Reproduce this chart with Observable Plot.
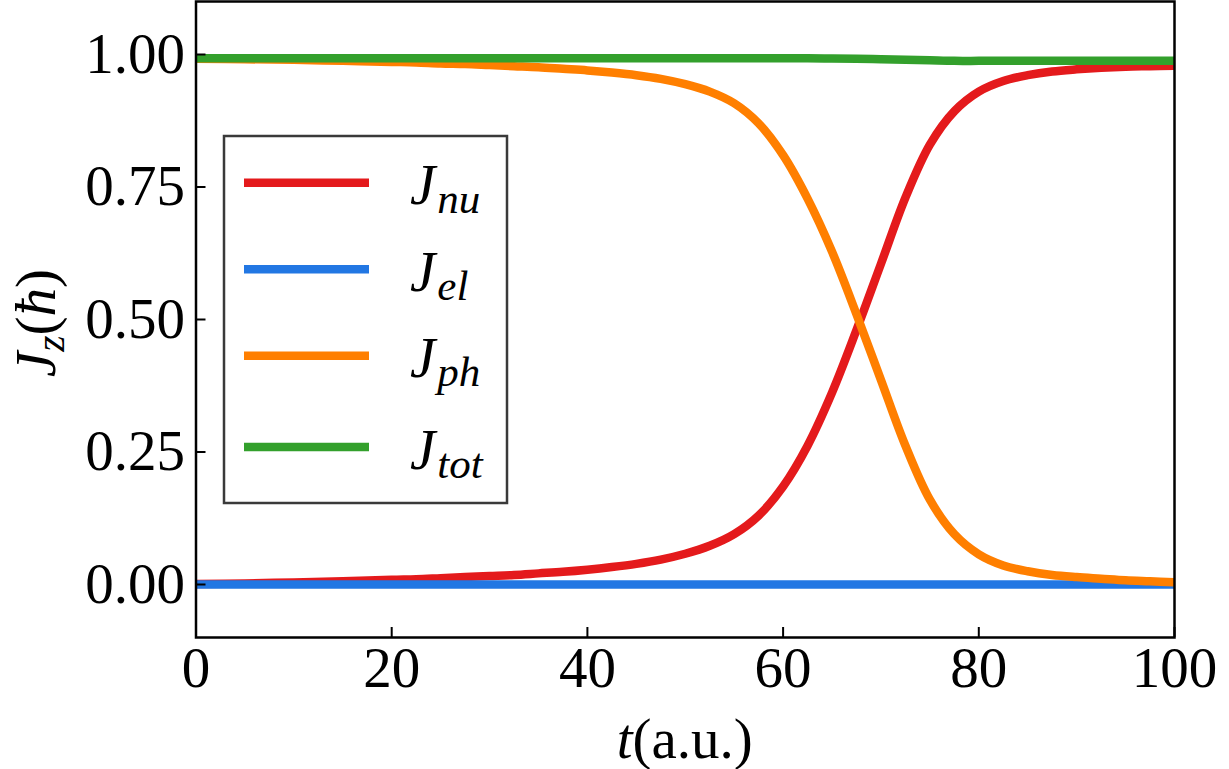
<!DOCTYPE html>
<html>
<head>
<meta charset="utf-8">
<script src="https://cdn.jsdelivr.net/npm/d3@7"></script>
<script src="https://cdn.jsdelivr.net/npm/@observablehq/plot@0.6"></script>
<style>
  body { margin: 0; background: #fff; }
</style>
</head>
<body>
<div id="chart"></div>
<script>
// ---- data ----
const tValues = [0, 5, 10, 15, 20, 22.5, 25, 27.5, 30, 32.5, 35, 37.5, 40, 42.5, 45, 47.5, 50, 52.5, 55, 57.5, 60, 62.5, 65, 67.5, 70, 72.5, 75, 77.5, 80, 82.5, 85, 87.5, 90, 92.5, 95, 97.5, 100];
const jNu  = [0.001, 0.002, 0.004, 0.006, 0.009, 0.010, 0.012, 0.014, 0.016, 0.018, 0.021, 0.024, 0.028, 0.033, 0.039, 0.047, 0.058, 0.073, 0.095, 0.130, 0.185, 0.262, 0.362, 0.480, 0.605, 0.730, 0.830, 0.893, 0.930, 0.950, 0.961, 0.968, 0.972, 0.975, 0.977, 0.978, 0.979];
const jEl  = [0, 0, 0, 0, 0, 0, 0, 0, 0, 0, 0, 0, 0, 0, 0, 0, 0, 0, 0, 0, 0, 0, 0, 0, 0, 0, 0, 0, 0, 0, 0, 0, 0, 0, 0, 0, 0];
const jPh  = [0.992, 0.991, 0.990, 0.988, 0.986, 0.985, 0.983, 0.982, 0.980, 0.978, 0.976, 0.973, 0.970, 0.966, 0.961, 0.954, 0.944, 0.930, 0.908, 0.870, 0.810, 0.728, 0.628, 0.510, 0.386, 0.262, 0.160, 0.095, 0.057, 0.036, 0.025, 0.018, 0.014, 0.011, 0.008, 0.006, 0.004];
const jTot = [0.993, 0.993, 0.993, 0.993, 0.993, 0.993, 0.993, 0.993, 0.993, 0.993, 0.993, 0.993, 0.993, 0.993, 0.993, 0.993, 0.993, 0.993, 0.993, 0.993, 0.993, 0.993, 0.9925, 0.992, 0.991, 0.990, 0.989, 0.988, 0.988, 0.988, 0.988, 0.988, 0.988, 0.988, 0.988, 0.988, 0.988];

const seriesNames  = ["nu", "el", "ph", "tot"];
const seriesColors = ["#e41a1c", "#2277e3", "#ff7f00", "#33a02c"];
const xTicks = [0, 20, 40, 60, 80, 100];
const yTicks = [0, 0.25, 0.5, 0.75, 1.0];

// ---- build tidy table ----
const seriesValues = [jNu, jEl, jPh, jTot];
const rows = [];
seriesNames.forEach((name, k) => {
  tValues.forEach((t, i) => rows.push({series: name, t, j: seriesValues[k][i]}));
});

const FONT = "'Liberation Serif', 'Times New Roman', Times, serif";
const FS = 57;

const plot = Plot.plot({
  width: 1229,
  height: 769,
  marginLeft: 195.5,
  marginRight: 55,
  marginTop: 1,
  marginBottom: 132,
  style: {fontFamily: FONT, fontSize: FS + "px", background: "white", color: "black"},
  x: {domain: [0, 100]},
  y: {domain: [-0.1, 1.1]},
  color: {domain: seriesNames, range: seriesColors},
  marks: [
    Plot.line(rows, {x: "t", y: "j", z: "series", stroke: "series", strokeWidth: 8.5, curve: "catmull-rom", clip: true}),
    Plot.frame({stroke: "black", strokeWidth: 2.5}),
    Plot.axisX({ticks: xTicks, tickSize: -10, tickPadding: 19.5, strokeWidth: 2, label: null, tickFormat: d => String(d), fontSize: FS}),
    Plot.axisY({ticks: yTicks, tickSize: -10, tickPadding: 21, strokeWidth: 2, label: null, tickFormat: d => d.toFixed(2), fontSize: FS})
  ]
});

document.getElementById("chart").appendChild(plot);

// ---- axis labels and legend (rich text) ----
const svg = d3.select(plot);
const xs = plot.scale("x");
const ys = plot.scale("y");

// x label: t(a.u.)
const xl = svg.append("text")
  .attr("x", xs.apply(50))
  .attr("y", 758)
  .attr("text-anchor", "middle")
  .attr("font-family", FONT)
  .attr("font-size", FS)
  .attr("fill", "black");
xl.append("tspan").attr("font-style", "italic").text("t");
xl.append("tspan").text("(a.u.)");

// y label: J_z(ħ)
const yl = svg.append("text")
  .attr("transform", `translate(55,${ys.apply(0.5) + 4}) rotate(-90)`)
  .attr("text-anchor", "middle")
  .attr("font-family", FONT)
  .attr("font-size", FS)
  .attr("fill", "black");
yl.append("tspan").attr("font-style", "italic").text("J");
yl.append("tspan").attr("font-style", "italic").attr("font-size", 42).attr("dy", 9).text("z");
yl.append("tspan").attr("dy", -9).text("(");
yl.append("tspan").attr("font-style", "italic").text("ħ");
yl.append("tspan").text(")");

// legend
const lg = svg.append("g");
lg.append("rect")
  .attr("x", 224).attr("y", 136).attr("width", 283).attr("height", 367)
  .attr("fill", "white").attr("stroke", "#3a3a3a").attr("stroke-width", 2.5);
const rowY = [182.7, 269.3, 355.7, 447];
seriesNames.forEach((name, i) => {
  lg.append("line")
    .attr("x1", 244).attr("x2", 369)
    .attr("y1", rowY[i]).attr("y2", rowY[i])
    .attr("stroke", seriesColors[i]).attr("stroke-width", 8.5);
  const tx = lg.append("text")
    .attr("x", 410).attr("y", rowY[i] + 21.5)
    .attr("text-anchor", "start")
    .attr("font-family", FONT).attr("font-size", FS).attr("font-style", "italic")
    .attr("fill", "black");
  tx.append("tspan").text("J");
  tx.append("tspan").attr("font-size", 43).attr("dy", 9).attr("dx", 2).text(name);
});
</script>
</body>
</html>
